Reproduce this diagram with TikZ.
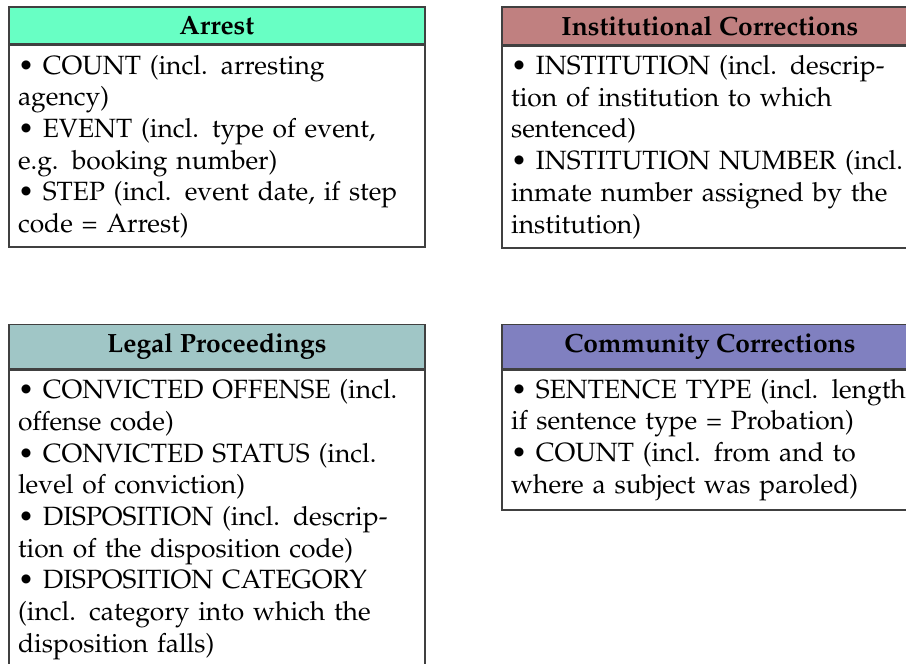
\documentclass[tikz,border=0pt]{standalone}
\usepackage[T1]{fontenc}
\usepackage{mathpazo}
\usetikzlibrary{positioning}

\definecolor{arrestgreen}{RGB}{104,255,196}
\definecolor{instrose}{RGB}{192,128,128}
\definecolor{legalteal}{RGB}{160,198,198}
\definecolor{commblue}{RGB}{128,128,192}

\newcommand{\bl}{\textbullet\ }

\tikzset{
  head/.style={draw=black!75, line width=0.6pt, anchor=north west,
    minimum width=5.54cm, inner sep=3.5pt, font=\bfseries},
  body/.style={draw=black!75, line width=0.6pt, inner sep=3.5pt,
    text width=150.6pt, align=left, below=0pt of #1}
}

\begin{document}
\begin{tikzpicture}[scale=1]
  \useasboundingbox (0,0) rectangle (12.06,-8.83);
  \clip (0,0) rectangle (12.06,-8.83);

  % top row
  \node[head, fill=arrestgreen] (arrest) at (0.106,-0.08) {Arrest};
  \node[body=arrest] (arrestbody) {\bl COUNT (incl. arresting\\
    agency)\\
    \bl EVENT (incl. type of event,\\
    e.g. booking number)\\
    \bl STEP (incl. event date, if step\\
    code = Arrest)};

  \node[head, fill=instrose] (inst) at (6.67,-0.08) {Institutional Corrections};
  \node[body=inst] (instbody) {\bl INSTITUTION (incl. descrip-\\
    tion of institution to which\\
    sentenced)\\
    \bl INSTITUTION NUMBER (incl.\\
    inmate number assigned by the\\
    institution)};

  % bottom row
  \node[head, fill=legalteal] (legal) at (0.106,-4.31) {Legal Proceedings};
  \node[body=legal] (legalbody) {\bl CONVICTED OFFENSE (incl.\\
    offense code)\\
    \bl CONVICTED STATUS (incl.\\
    level of conviction)\\
    \bl DISPOSITION (incl. descrip-\\
    tion of the disposition code)\\
    \bl DISPOSITION CATEGORY\\
    (incl. category into which the\\
    disposition falls)};

  \node[head, fill=commblue] (comm) at (6.67,-4.31) {Community Corrections};
  \node[body=comm] (commbody) {\mbox{\bl SENTENCE TYPE (incl. length,}\\
    if sentence type = Probation)\\
    \bl COUNT (incl. from and to\\
    where a subject was paroled)};
\end{tikzpicture}
\end{document}
